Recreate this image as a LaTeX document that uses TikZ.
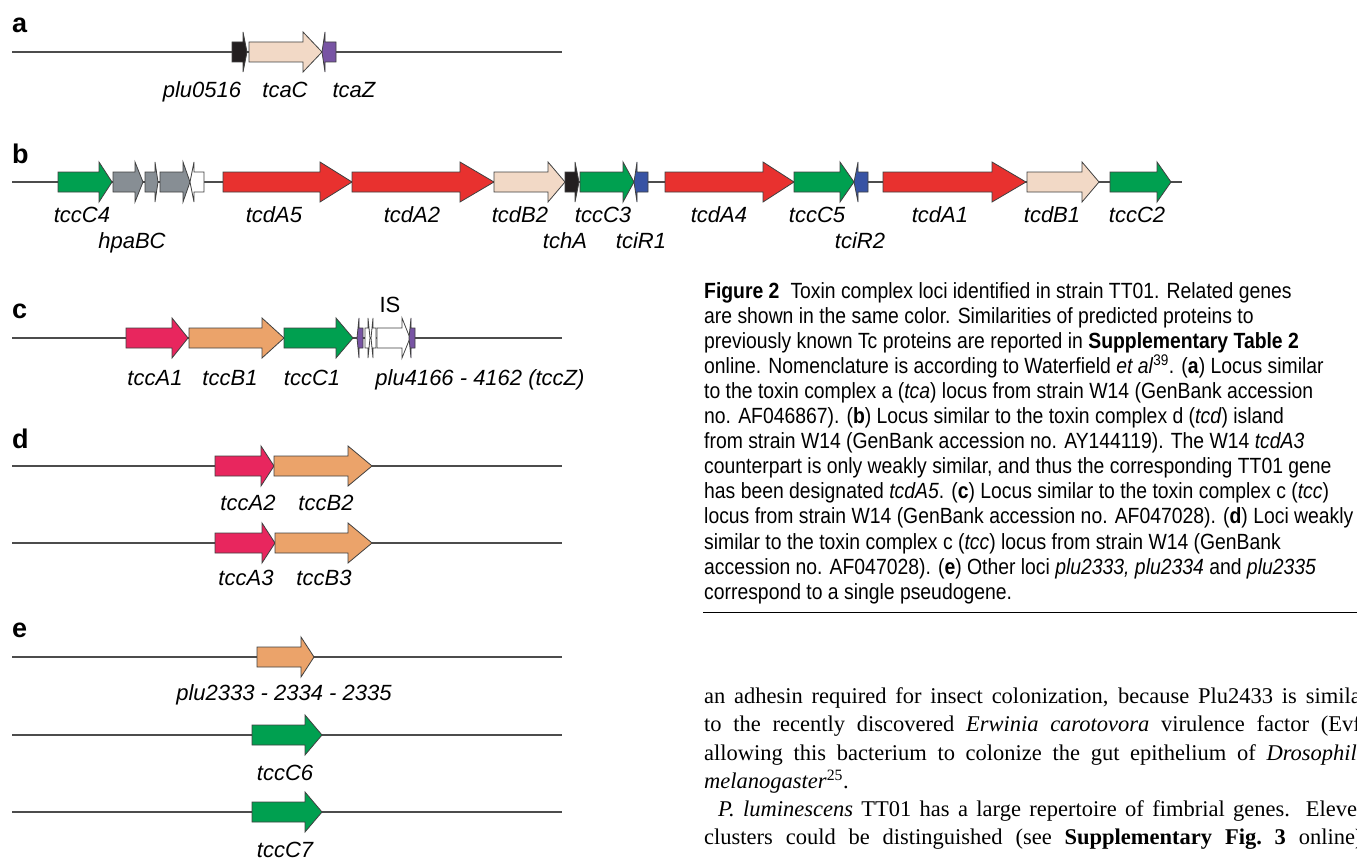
\documentclass[tikz,border=0pt]{standalone}
\usepackage{fontspec}
\setmainfont{Liberation Serif}
\newfontfamily\genefont{Liberation Sans}
\newfontfamily\capfont[FakeStretch=0.88]{Liberation Sans}
\definecolor{tcgreen}{RGB}{0,160,80}
\definecolor{tcred}{RGB}{232,49,47}
\definecolor{tcpeach}{RGB}{242,217,198}
\definecolor{tcgrey}{RGB}{135,142,148}
\definecolor{tcblack}{RGB}{35,31,32}
\definecolor{tcpurple}{RGB}{120,84,164}
\definecolor{tcblue}{RGB}{56,83,164}
\definecolor{tcpink}{RGB}{232,38,94}
\definecolor{tcorange}{RGB}{235,163,106}
\begin{document}
\begin{tikzpicture}[x=1pt,y=-1pt,
    locus/.style={draw=black!70,line width=1.2pt},
    gene/.style={draw=black!75,line width=0.8pt},
    glabel/.style={font=\genefont\itshape\fontsize{22}{24}\selectfont,anchor=base,inner sep=0pt},
    panel/.style={font=\genefont\bfseries\fontsize{27}{28}\selectfont,anchor=base west,inner sep=0pt},
    capline/.style={font=\capfont\fontsize{22}{25}\selectfont,anchor=base west,inner sep=0pt},
    bodyline/.style={font=\fontsize{22.5}{28}\selectfont,anchor=base west,inner sep=0pt}]
  \useasboundingbox (0,0) rectangle (1357,859);

  % loci
  \foreach \y in {52,338,466,543,657,735,812}
    \draw[locus] (12,\y) -- (562,\y);
  \draw[locus] (12,182) -- (1182,182);

  % genes pointing right: y/start/end/head/colour
  \foreach \y/\s/\e/\h/\c in {52/232/247/4/tcblack, 52/249/322/19/tcpeach,
      182/58/112/13/tcgreen, 182/113/143/8/tcgrey, 182/145/158/3/tcgrey, 182/160/190/7/tcgrey,
      182/223/352/32/tcred, 182/352/494/34/tcred, 182/494/565/17/tcpeach, 182/565/579/4/tcblack,
      182/580/634/11/tcgreen, 182/665/794/31/tcred, 182/794/854/14/tcgreen, 182/883/1026/34/tcred,
      182/1027/1099/17/tcpeach, 182/1110/1171/14/tcgreen,
      338/126/188/16/tcpink, 338/189/284/22/tcorange, 338/284/353/17/tcgreen,
      338/365/370/2/white, 338/377/410/8/white,
      466/215/274/13/tcpink, 466/274/372/24/tcorange,
      543/215/275/13/tcpink, 543/275/372/24/tcorange,
      657/257/314/13/tcorange, 735/252/322/17/tcgreen, 812/252/322/17/tcgreen}
    \draw[gene,fill=\c] (\s,\y-10) -- (\e-\h,\y-10) -- (\e-\h,\y-20) -- (\e,\y)
      -- (\e-\h,\y+20) -- (\e-\h,\y+10) -- (\s,\y+10) -- cycle;

  % genes pointing left
  \foreach \y/\s/\e/\h/\c in {52/322/336/3/tcpurple, 182/190/204/4/white,
      182/634/648/3/tcblue, 182/854/868/4/tcblue,
      338/357/363/2/tcpurple, 338/371/376/2/white, 338/409/415/2/tcpurple}
    \draw[gene,fill=\c] (\s,\y) -- (\s+\h,\y-20) -- (\s+\h,\y-10) -- (\e,\y-10)
      -- (\e,\y+10) -- (\s+\h,\y+10) -- (\s+\h,\y+20) -- cycle;

  % panel letters
  \node[panel] (pa) at (12,33) {a};
  \node[panel] (pb) at (12,163) {b};
  \node[panel] (pc) at (12,318) {c};
  \node[panel] (pd) at (12,448) {d};
  \node[panel] (pe) at (12,637) {e};

  % gene names
  \node[glabel] (plu0516) at (202,97) {plu0516};
  \node[glabel] (tcaC) at (285,97) {tcaC};
  \node[glabel] (tcaZ) at (354,97) {tcaZ};
  \foreach \n/\x in {tccC4/82, tcdA5/274, tcdA2/412, tcdB2/520, tccC3/603,
      tcdA4/719, tccC5/817, tcdA1/940, tcdB1/1052, tccC2/1137}
    \node[glabel] (\n) at (\x,222) {\n};
  \foreach \n/\x in {hpaBC/132, tchA/565, tciR1/641, tciR2/860}
    \node[glabel] (\n) at (\x,248) {\n};
  \node[glabel] (tccA1) at (155,385) {tccA1};
  \node[glabel] (tccB1) at (230,385) {tccB1};
  \node[glabel] (tccC1) at (312,385) {tccC1};
  \node[glabel] (plu4166) at (480,385) {plu4166 - 4162 (tccZ)};
  \node[glabel,font=\genefont\fontsize{22}{24}\selectfont] (IS) at (390,312) {IS};
  \node[glabel] (tccA2) at (248,510) {tccA2};
  \node[glabel] (tccB2) at (326,510) {tccB2};
  \node[glabel] (tccA3) at (246,585) {tccA3};
  \node[glabel] (tccB3) at (324,585) {tccB3};
  \node[glabel] (plu2333) at (284,700) {plu2333 - 2334 - 2335};
  \node[glabel] (tccC6) at (285,780) {tccC6};
  \node[glabel] (tccC7) at (285,857) {tccC7};

  % legend
  \foreach \t [count=\i] in {{\textbf{Figure 2}\enspace Toxin complex loci identified in strain TT01. Related genes},
      {are shown in the same color. Similarities of predicted proteins to},
      {previously known Tc proteins are reported in \textbf{Supplementary Table 2}},
      {online. Nomenclature is according to Waterfield \textit{et al}\textsuperscript{39}. (\textbf{a}) Locus similar},
      {to the toxin complex a (\textit{tca}) locus from strain W14 (GenBank accession},
      {no. AF046867). (\textbf{b}) Locus similar to the toxin complex d (\textit{tcd}) island},
      {from strain W14 (GenBank accession no. AY144119). The W14 \textit{tcdA3}},
      {counterpart is only weakly similar, and thus the corresponding TT01 gene},
      {has been designated \textit{tcdA5}. (\textbf{c}) Locus similar to the toxin complex c (\textit{tcc})},
      {locus from strain W14 (GenBank accession no. AF047028). (\textbf{d}) Loci weakly},
      {similar to the toxin complex c (\textit{tcc}) locus from strain W14 (GenBank},
      {accession no. AF047028). (\textbf{e}) Other loci \textit{plu2333, plu2334} and \textit{plu2335}},
      {correspond to a single pseudogene.}}
    \node[capline] (cap\i) at (704,298+25.1*\i-25.1) {\t};
  \draw[line width=1pt] (703,612) -- (1357,612);

  % running text
  \node[bodyline] (txt1) at (704,703) {\makebox[664pt][s]{an adhesin required for insect colonization, because Plu2433 is similar}};
  \node[bodyline] (txt2) at (704,731) {\makebox[664pt][s]{to the recently discovered \textit{Erwinia carotovora} virulence factor (Evf)}};
  \node[bodyline] (txt3) at (704,760) {\makebox[664pt][s]{allowing this bacterium to colonize the gut epithelium of \textit{Drosophila}}};
  \node[bodyline] (txt4) at (704,788) {\textit{melanogaster}\textsuperscript{25}.};
  \node[bodyline] (txt5) at (704,816) {\makebox[664pt][s]{\hspace*{14pt}\textit{P. luminescens} TT01 has a large repertoire of fimbrial genes. Eleven}};
  \node[bodyline] (txt6) at (704,844) {\makebox[664pt][s]{clusters could be distinguished (see \textbf{Supplementary Fig.\ 3} online).}};
\end{tikzpicture}
\end{document}
